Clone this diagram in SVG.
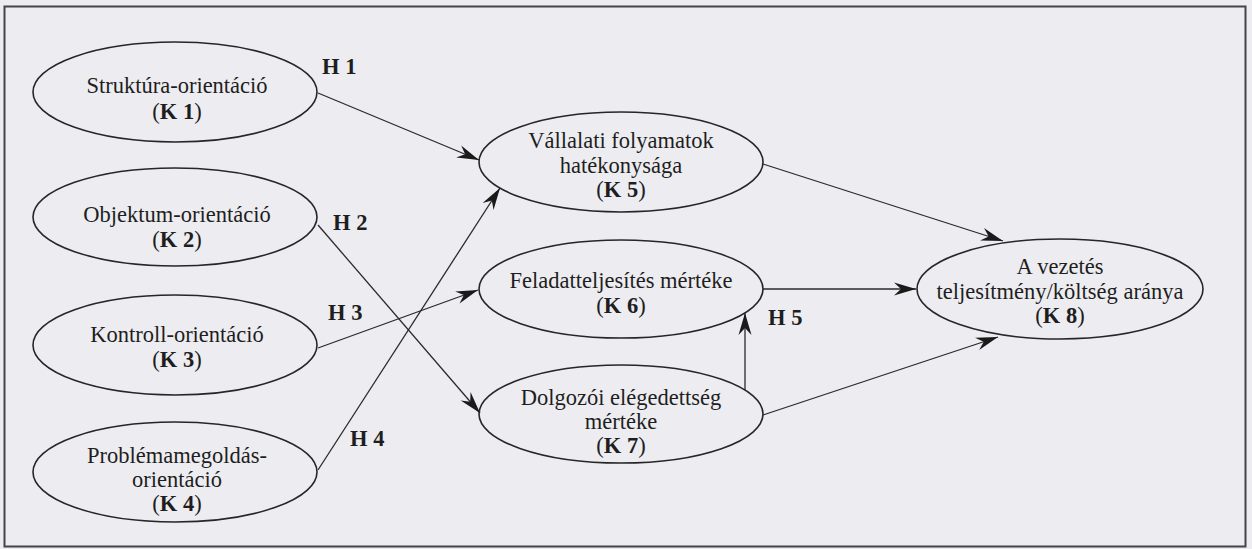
<svg xmlns="http://www.w3.org/2000/svg" width="1252" height="549" viewBox="0 0 1252 549">
  <style>
    .node { fill: none; stroke: #262626; stroke-width: 1.6; }
    .lbl { font-family: "Liberation Serif", "Times New Roman", serif; font-size: 22.5px; fill: #1e1e1e; text-anchor: middle; }
    .b { font-weight: bold; }
    .hyp { font-family: "Liberation Serif", "Times New Roman", serif; font-size: 22.5px; font-weight: bold; fill: #1e1e1e; }
    .edge { fill: none; stroke: #2a2a2a; stroke-width: 1.3; marker-end: url(#arrow); }
  </style>
  <defs>
    <marker id="arrow" markerUnits="userSpaceOnUse" markerWidth="26" markerHeight="16" viewBox="-24 -8 26 16" refX="0" refY="0" orient="auto">
      <path d="M0,0 L-22,-6.5 L-15,0 L-22,6.5 Z" fill="#1a1a1a"/>
    </marker>
  </defs>

  <!-- page background and frame -->
  <rect x="0" y="0" width="1252" height="549" fill="#ededf1"/>
  <rect x="4.5" y="6.5" width="1241" height="540" fill="none" stroke="#454545" stroke-width="2"/>

  <!-- connectors -->
  <g id="connectors">
    <line class="edge" x1="318" y1="93" x2="479" y2="160"/>
    <line class="edge" x1="318" y1="225" x2="480" y2="413"/>
    <line class="edge" x1="318" y1="348" x2="478" y2="290"/>
    <line class="edge" x1="318" y1="470" x2="500" y2="188"/>
    <line class="edge" x1="745" y1="390" x2="745" y2="313"/>
    <line class="edge" x1="763" y1="164" x2="1003" y2="241"/>
    <line class="edge" x1="763" y1="289" x2="916" y2="289"/>
    <line class="edge" x1="763" y1="415" x2="998" y2="337"/>
  </g>

  <!-- hypothesis labels -->
  <g id="hypotheses">
    <text class="hyp" x="322" y="74">H 1</text>
    <text class="hyp" x="333" y="230">H 2</text>
    <text class="hyp" x="328" y="320">H 3</text>
    <text class="hyp" x="350" y="446">H 4</text>
    <text class="hyp" x="768" y="325">H 5</text>
  </g>

  <g id="k1">
    <ellipse class="node" cx="175" cy="92" rx="142" ry="50"/>
    <text class="lbl" x="177" y="93">Struktúra-orientáció</text>
    <text class="lbl" x="177" y="119">(<tspan class="b">K 1</tspan>)</text>
  </g>
  <g id="k2">
    <ellipse class="node" cx="175" cy="217" rx="142" ry="49"/>
    <text class="lbl" x="177" y="222">Objektum-orientáció</text>
    <text class="lbl" x="177" y="247">(<tspan class="b">K 2</tspan>)</text>
  </g>
  <g id="k3">
    <ellipse class="node" cx="175" cy="345" rx="142" ry="50"/>
    <text class="lbl" x="177" y="342">Kontroll-orientáció</text>
    <text class="lbl" x="177" y="367">(<tspan class="b">K 3</tspan>)</text>
  </g>
  <g id="k4">
    <ellipse class="node" cx="175" cy="472" rx="142" ry="50"/>
    <text class="lbl" x="177" y="463">Problémamegoldás-</text>
    <text class="lbl" x="177" y="487">orientáció</text>
    <text class="lbl" x="177" y="511">(<tspan class="b">K 4</tspan>)</text>
  </g>
  <g id="k5">
    <ellipse class="node" cx="621" cy="162" rx="142" ry="50"/>
    <text class="lbl" x="621" y="148">Vállalati folyamatok</text>
    <text class="lbl" x="621" y="173">hatékonysága</text>
    <text class="lbl" x="621" y="197">(<tspan class="b">K 5</tspan>)</text>
  </g>
  <g id="k6">
    <ellipse class="node" cx="621" cy="289" rx="142" ry="49"/>
    <text class="lbl" x="621" y="288">Feladatteljesítés mértéke</text>
    <text class="lbl" x="621" y="313">(<tspan class="b">K 6</tspan>)</text>
  </g>
  <g id="k7">
    <ellipse class="node" cx="621" cy="414" rx="142" ry="49"/>
    <text class="lbl" x="621" y="405">Dolgozói elégedettség</text>
    <text class="lbl" x="621" y="429">mértéke</text>
    <text class="lbl" x="621" y="453">(<tspan class="b">K 7</tspan>)</text>
  </g>
  <g id="k8">
    <ellipse class="node" cx="1060" cy="289" rx="143" ry="50"/>
    <text class="lbl" x="1060" y="274">A vezetés</text>
    <text class="lbl" x="1060" y="299">teljesítmény/költség aránya</text>
    <text class="lbl" x="1060" y="323">(<tspan class="b">K 8</tspan>)</text>
  </g>
</svg>
